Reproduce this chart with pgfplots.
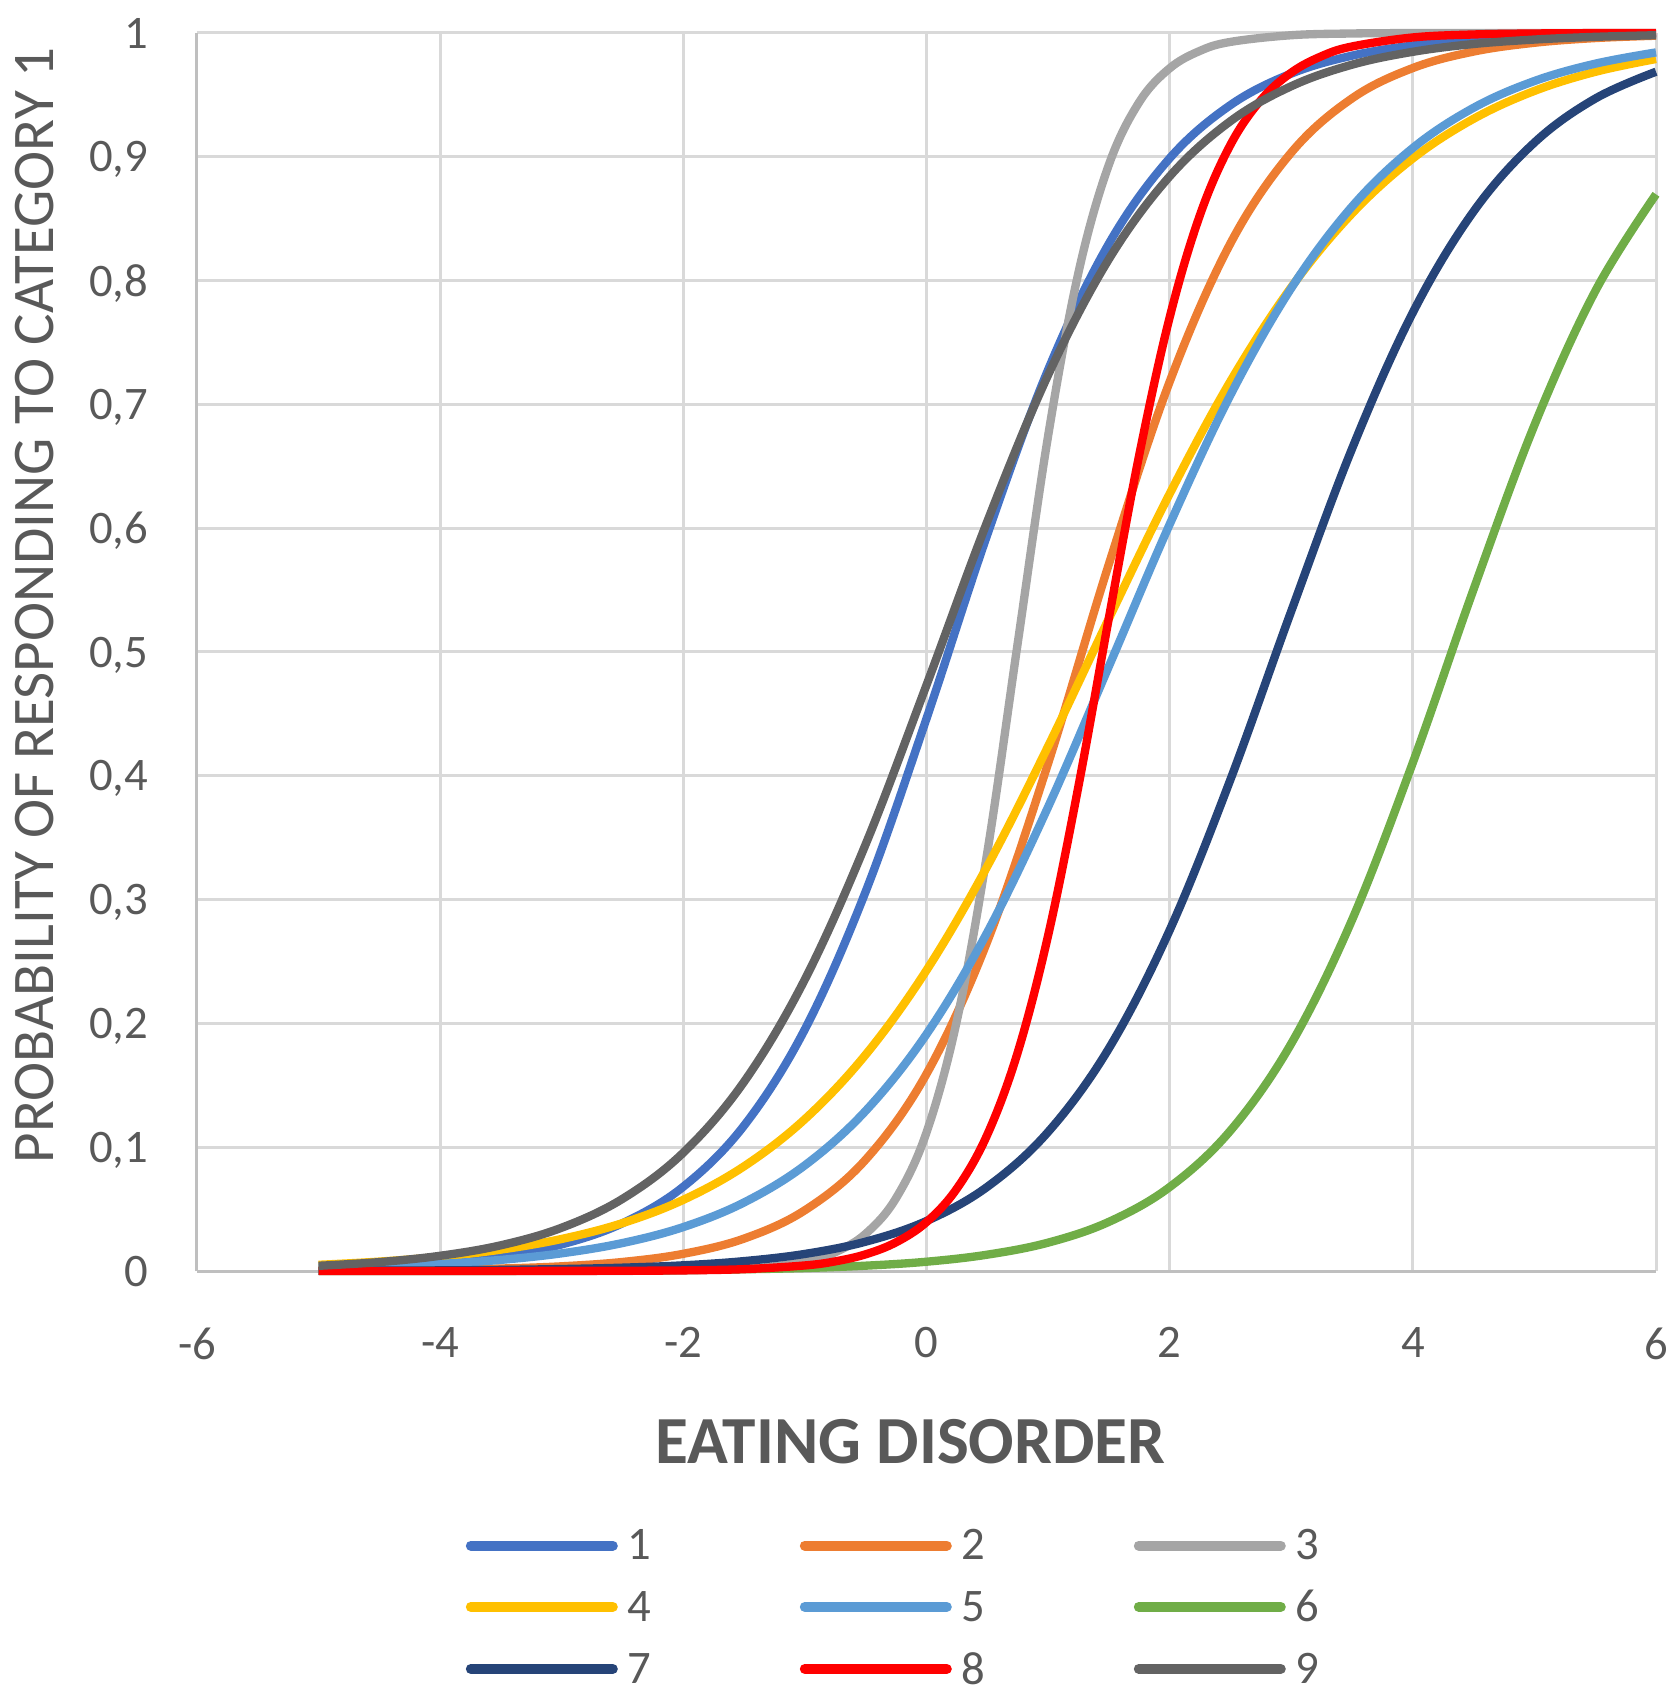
\documentclass[border=0pt]{standalone}
\usepackage{fontspec}
\setmainfont{Carlito}
\usepackage{pgfplots}
\pgfplotsset{compat=1.18}
\definecolor{c1}{HTML}{4472C4}
\definecolor{c2}{HTML}{ED7D31}
\definecolor{c3}{HTML}{A5A5A5}
\definecolor{c4}{HTML}{FFC000}
\definecolor{c5}{HTML}{5B9BD5}
\definecolor{c6}{HTML}{70AD47}
\definecolor{c7}{HTML}{264478}
\definecolor{c8}{HTML}{FF0000}
\definecolor{c9}{HTML}{636363}
\definecolor{txt}{HTML}{595959}
\definecolor{gridc}{HTML}{D9D9D9}
\definecolor{axc}{HTML}{BFBFBF}
\pgfplotsset{curve/.style={#1, line width=2.5pt, line join=round, smooth, tension=0.6, no markers}}
\begin{document}
\begin{tikzpicture}
\begin{axis}[
  scale only axis, width=437.7pt, height=371.4pt,
  xmin=-6, xmax=6, ymin=0, ymax=1,
  xtick={-6,-4,-2,0,2,4,6},
  ytick={0,0.1,0.2,0.3,0.4,0.5,0.6,0.7,0.8,0.9,1},
  axis lines*=left,
  axis line style={draw=axc, line width=0.9pt, -},
  grid=major,
  major grid style={draw=gridc, line width=0.9pt},
  major tick length=0pt,
  clip=false,
  /pgf/number format/assume math mode=true,
  tick label style={font=\fontsize{14}{16}\selectfont, text=txt, inner sep=0pt},
  yticklabel style={/pgf/number format/use comma, /pgf/number format/fixed, /pgf/number format/precision=1, anchor=east, xshift=-14.5pt, text depth=0pt},
  xticklabel style={anchor=north, yshift=-16.8pt},
  ylabel={PROBABILITY OF RESPONDING TO CATEGORY 1},
  every axis y label/.style={at={(axis description cs:-0.0974,0.5376)}, rotate=90, anchor=south, inner sep=0pt, font=\fontsize{17.7}{20}\selectfont, text=txt},
  xlabel={EATING DISORDER},
  every axis x label/.style={at={(axis description cs:0.489,0)}, anchor=base, yshift=-57.6pt, inner sep=0pt, font=\bfseries\fontsize{20.2}{23}\selectfont, text=txt},
  legend columns=3,
  legend style={at={(axis description cs:0.1838,-0.2030)}, anchor=north west, draw=none, fill=none, inner sep=0pt,
    nodes={inner sep=2pt, text depth=0.15em, text=txt, font=\fontsize{14}{16}\selectfont},
    /tikz/every even column/.append style={column sep=42.5pt},
    /tikz/every odd column/.append style={column sep=1pt},
    row sep=3.6pt},
  legend image code/.code={\draw[#1, line width=3pt, line cap=round] (0pt,0.5pt) -- (42.6pt,0.5pt);},
]
\addplot[curve=c1] coordinates {(-5,0.0020)(-4.5,0.0036)(-4,0.0066)(-3.5,0.0119)(-3,0.0215)(-2.5,0.0386)(-2,0.0681)(-1.5,0.1175)(-1,0.1953)(-0.5,0.3066)(0,0.4462)(0.5,0.5948)(1,0.7279)(1.5,0.8298)(2,0.8988)(2.5,0.9418)(3,0.9672)(3.5,0.9817)(4,0.9899)(4.5,0.9944)(5,0.9969)(5.5,0.9983)(6,0.9991)};
\addlegendentry{1}
\addplot[curve=c2] coordinates {(-5,0.0003)(-4.5,0.0005)(-4,0.0010)(-3.5,0.0020)(-3,0.0038)(-2.5,0.0073)(-2,0.0139)(-1.5,0.0262)(-1,0.0491)(-0.5,0.0900)(0,0.1592)(0.5,0.2662)(1,0.4100)(1.5,0.5710)(2,0.7183)(2.5,0.8301)(3,0.9034)(3.5,0.9472)(4,0.9717)(4.5,0.9850)(5,0.9921)(5.5,0.9959)(6,0.9978)};
\addlegendentry{2}
\addplot[curve=c3] coordinates {(-5,0.0000)(-4,0.0000)(-3,0.0000)(-2.5,0.0001)(-2,0.0005)(-1.5,0.0019)(-1.25,0.0038)(-1,0.0076)(-0.75,0.0152)(-0.5,0.0301)(-0.25,0.0589)(0,0.1119)(0.25,0.2023)(0.5,0.3381)(0.75,0.5070)(1,0.6744)(1.25,0.8066)(1.5,0.8936)(1.75,0.9442)(2,0.9715)(2.25,0.9856)(2.5,0.9928)(3,0.9982)(3.5,0.9996)(4,0.9999)(5,1.0000)(6,1.0000)};
\addlegendentry{3}
\addplot[curve=c4] coordinates {(-5,0.0050)(-4.5,0.0076)(-4,0.0115)(-3.5,0.0173)(-3,0.0259)(-2.5,0.0387)(-2,0.0575)(-1.5,0.0846)(-1,0.1227)(-0.5,0.1748)(0,0.2429)(0.5,0.3269)(1,0.4238)(1.5,0.5270)(2,0.6278)(2.5,0.7187)(3,0.7946)(3.5,0.8542)(4,0.8987)(4.5,0.9307)(5,0.9532)(5.5,0.9686)(6,0.9790)};
\addlegendentry{4}
\addplot[curve=c5] coordinates {(-5,0.0023)(-4.5,0.0036)(-4,0.0057)(-3.5,0.0090)(-3,0.0143)(-2.5,0.0226)(-2,0.0355)(-1.5,0.0554)(-1,0.0854)(-0.5,0.1294)(0,0.1913)(0.5,0.2736)(1,0.3748)(1.5,0.4884)(2,0.6031)(2.5,0.7076)(3,0.7939)(3.5,0.8598)(4,0.9071)(4.5,0.9396)(5,0.9612)(5.5,0.9752)(6,0.9843)};
\addlegendentry{5}
\addplot[curve=c6] coordinates {(-5,0.0000)(-4.5,0.0000)(-4,0.0001)(-3.5,0.0001)(-3,0.0003)(-2.5,0.0004)(-2,0.0008)(-1.5,0.0014)(-1,0.0024)(-0.5,0.0043)(0,0.0075)(0.5,0.0132)(1,0.0229)(1.5,0.0397)(2,0.0678)(2.5,0.1134)(3,0.1837)(3.5,0.2836)(4,0.4106)(4.5,0.5507)(5,0.6832)(5.5,0.7914)(6,0.8697)};
\addlegendentry{6}
\addplot[curve=c7] coordinates {(-5,0.0002)(-4.5,0.0003)(-4,0.0005)(-3.5,0.0009)(-3,0.0016)(-2.5,0.0027)(-2,0.0046)(-1.5,0.0080)(-1,0.0138)(-0.5,0.0237)(0,0.0404)(0.5,0.0680)(1,0.1123)(1.5,0.1798)(2,0.2753)(2.5,0.3970)(3,0.5330)(3.5,0.6642)(4,0.7742)(4.5,0.8559)(5,0.9115)(5.5,0.9470)(6,0.9687)};
\addlegendentry{7}
\addplot[curve=c8] coordinates {(-5,0.0000)(-4,0.0000)(-3,0.0001)(-2.5,0.0002)(-2,0.0005)(-1.5,0.0015)(-1,0.0045)(-0.75,0.0078)(-0.5,0.0135)(-0.25,0.0232)(0,0.0395)(0.25,0.0666)(0.5,0.1101)(0.75,0.1765)(1,0.2709)(1.25,0.3917)(1.5,0.5275)(1.75,0.6593)(2,0.7703)(2.25,0.8532)(2.5,0.9097)(2.75,0.9458)(3,0.9680)(3.25,0.9813)(3.5,0.9891)(4,0.9964)(4.5,0.9988)(5,0.9996)(5.5,0.9999)(6,1.0000)};
\addlegendentry{8}
\addplot[curve=c9] coordinates {(-5,0.0042)(-4.5,0.0072)(-4,0.0123)(-3.5,0.0208)(-3,0.0350)(-2.5,0.0583)(-2,0.0956)(-1.5,0.1529)(-1,0.2356)(-0.5,0.3448)(0,0.4733)(0.5,0.6054)(1,0.7237)(1.5,0.8173)(2,0.8842)(2.5,0.9288)(3,0.9570)(3.5,0.9744)(4,0.9848)(4.5,0.9911)(5,0.9947)(5.5,0.9969)(6,0.9982)};
\addlegendentry{9}
\end{axis}
\pgfresetboundingbox
\path[use as bounding box] ([xshift=-59.1pt,yshift=-129.9pt]current axis.south west) rectangle ([xshift=5.7pt,yshift=9.9pt]current axis.north east);
\end{tikzpicture}
\end{document}
